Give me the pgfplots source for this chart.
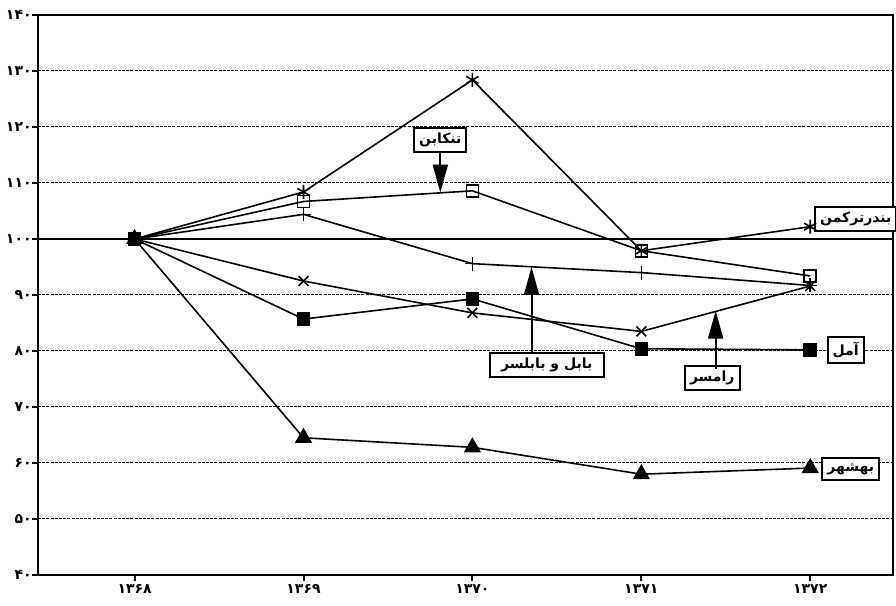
\documentclass[border=0pt]{standalone}
\usepackage{fontspec}
\usepackage{pgfplots}
\pgfplotsset{compat=1.18}
\usetikzlibrary{arrows.meta}
\TeXXeTstate=1
\setmainfont{DejaVu Sans}
\newfontfamily\fa[Script=Arabic]{DejaVu Sans}

\tikzset{
  lbl/.style={draw=black, line width=1pt, fill=white, inner sep=2.5pt, font=\fa\bfseries\scriptsize},
  arr/.style={line width=1pt, -{Triangle[width=7.5pt,length=14pt]}},
}

\begin{document}
\begin{tikzpicture}
  \begin{axis}[
      scale only axis,
      width=427.5pt, height=280pt,
      xmin=-0.572, xmax=4.49,
      ymin=40, ymax=140,
      xtick={0,...,4},
      xticklabels={۱۳۶۸,۱۳۶۹,۱۳۷۰,۱۳۷۱,۱۳۷۲},
      ytick={40,50,...,140},
      yticklabels={۴۰,۵۰,۶۰,۷۰,۸۰,۹۰,۱۰۰,۱۱۰,۱۲۰,۱۳۰,۱۴۰},
      ticklabel style={font=\fa\bfseries\scriptsize, inner sep=0.5pt},
      xticklabel style={yshift=-1pt},
      yticklabel style={xshift=0.5pt},
      tick align=outside,
      major tick length=3pt,
      tick style={black, line width=1pt},
      xtick pos=bottom, ytick pos=left,
      ymajorgrids,
      grid style={black, line width=0.5pt, dash pattern=on 1.5pt off 0.6pt},
      extra y ticks={100},
      extra y tick labels={},
      extra y tick style={grid style={black, solid, line width=1pt}, major tick length=0pt},
      axis line style={black, line width=1.3pt},
      clip=false,
      every axis plot/.append style={black, line width=0.8pt},
    ]
    % bandar torkaman
    \addplot[mark=asterisk, mark size=3.5pt] coordinates {(0,100) (1,108.4) (2,128.4) (3,97.9) (4,102.2)};
    % tonekabon
    \addplot[mark=square, mark size=3pt, mark options={fill=white}] coordinates {(0,100) (1,106.7) (2,108.6) (3,97.9) (4,93.4)};
    % babol va babolsar
    \addplot[mark=+, mark size=3.5pt] coordinates {(0,100) (1,104.4) (2,95.6) (3,94.0) (4,91.7)};
    % ramsar
    \addplot[mark=x, mark size=3.5pt] coordinates {(0,100) (1,92.5) (2,86.8) (3,83.5) (4,91.6)};
    % amol
    \addplot[mark=square*, mark size=3pt] coordinates {(0,100) (1,85.7) (2,89.3) (3,80.4) (4,80.2)};
    % behshahr
    \addplot[mark=triangle*, mark size=4.2pt] coordinates {(0,100) (1,64.5) (2,62.8) (3,58.0) (4,59.1)};

    \node[lbl] at (axis cs:1.81,117.7) {\beginR تنکابن\endR};
    \draw[arr] (axis cs:1.81,115.4) -- (axis cs:1.81,108.3);
    \node[lbl] at (axis cs:4.27,103.6) {\beginR بندرترکمن\endR};
    \node[lbl, minimum width=57pt] at (axis cs:2.44,77.5) {\beginR بابل و بابلسر\endR};
    \draw[arr] (axis cs:2.35,79.6) -- (axis cs:2.35,95.0);
    \node[lbl] at (axis cs:3.42,75.2) {\beginR رامسر\endR};
    \draw[arr] (axis cs:3.44,76.8) -- (axis cs:3.44,87.2);
    \node[lbl] at (axis cs:4.21,80.2) {\beginR آمل\endR};
    \node[lbl] at (axis cs:4.24,58.9) {\beginR بهشهر\endR};
  \end{axis}
  \pgfresetboundingbox
  \path[use as bounding box] ([shift={(-19pt,-15.5pt)}]current axis.south west) rectangle ([shift={(1.5pt,7.5pt)}]current axis.north east);
\end{tikzpicture}
\end{document}
